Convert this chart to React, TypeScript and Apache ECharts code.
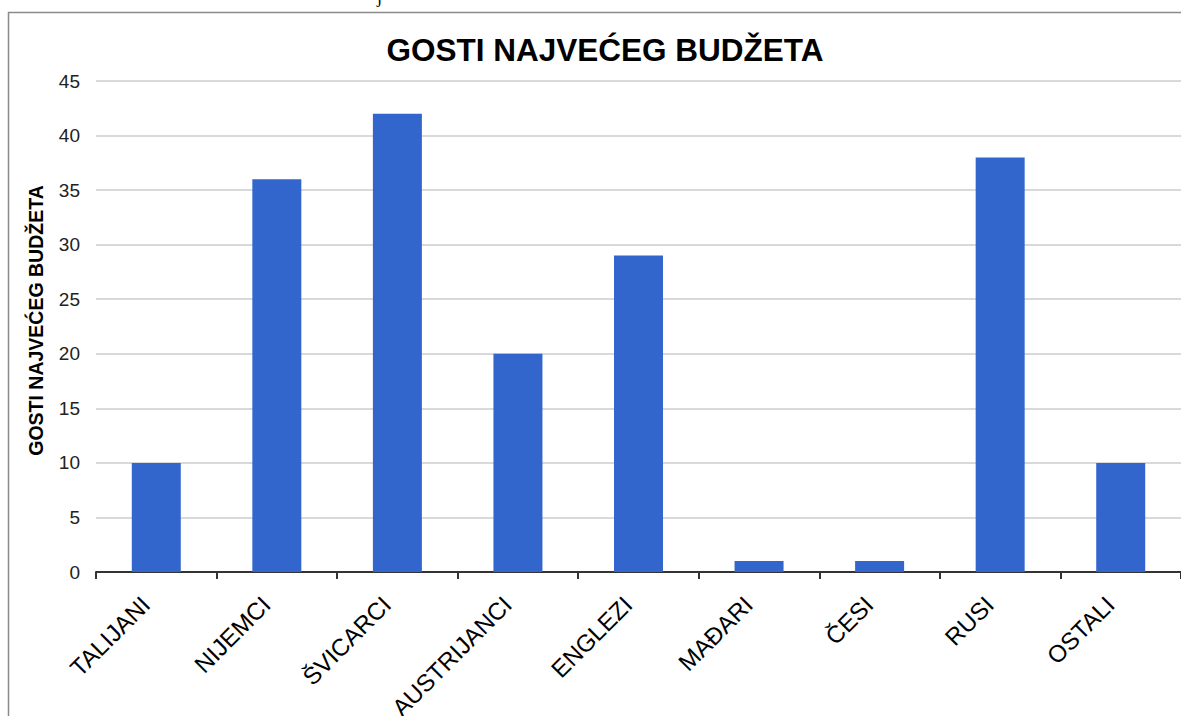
import React, { useEffect, useRef } from "react";
import * as echarts from "echarts";

const categories = ["TALIJANI", "NIJEMCI", "ŠVICARCI", "AUSTRIJANCI", "ENGLEZI", "MAĐARI", "ČESI", "RUSI", "OSTALI"];
const values = [10, 36, 42, 20, 29, 1, 1, 38, 10];
const titleText = "GOSTI NAJVEĆEG BUDŽETA";
const yAxisName = "GOSTI NAJVEĆEG BUDŽETA";
const fragmentText = "j";

export default function App() {
  const ref = useRef<HTMLDivElement>(null);
  useEffect(() => {
    if (!ref.current) return;
    const chart = echarts.init(ref.current, null, { renderer: "svg" });
    chart.setOption({
      animation: false,
      backgroundColor: "#ffffff",
      title: {
        text: titleText,
        left: 600,
        textAlign: "center",
        top: 29,
        textStyle: { fontFamily: "Liberation Sans, Arial, sans-serif", fontWeight: "bold", fontSize: 31.5, color: "#000" },
      },
      graphic: [
        {
          type: "line",
          shape: { x1: 8.5, y1: 12, x2: 8.5, y2: 716 },
          style: { stroke: "#8a8a8a", lineWidth: 1.5 },
          silent: true,
          z: 100,
        },
        {
          type: "line",
          shape: { x1: 8, y1: 12.5, x2: 1181, y2: 12.5 },
          style: { stroke: "#8a8a8a", lineWidth: 1.5 },
          silent: true,
          z: 100,
        },
        {
          type: "text",
          x: 377,
          y: -12,
          style: { text: fragmentText, fontFamily: "Liberation Serif, serif", fontSize: 18, fill: "#000" },
        },
      ],
      grid: { left: 96, top: 81, right: 0, bottom: 144, containLabel: false, outerBoundsMode: "none" },
      xAxis: {
        type: "category",
        data: categories,
        axisLine: { lineStyle: { color: "#333", width: 2 } },
        axisTick: { show: true, length: 7, lineStyle: { color: "#333", width: 2 } },
        axisLabel: {
          rotate: 45,
          interval: 0,
          margin: 18,
          padding: [0, 15, 0, 0],
          fontSize: 24,
          color: "#000",
          fontFamily: "Liberation Sans, Arial, sans-serif",
        },
      },
      yAxis: {
        type: "value",
        min: 0,
        max: 45,
        interval: 5,
        name: yAxisName,
        nameLocation: "middle",
        nameRotate: 90,
        nameGap: 50,
        nameTextStyle: {
          fontFamily: "Liberation Sans, Arial, sans-serif",
          fontWeight: "bold",
          fontSize: 19.5,
          color: "#000",
          padding: [0, 0, 0, 12],
        },
        axisLine: { show: false },
        axisTick: { show: false },
        axisLabel: { fontSize: 19, color: "#222", margin: 16, fontFamily: "Liberation Sans, Arial, sans-serif" },
        splitLine: { lineStyle: { color: "#cccccc", width: 1.5 } },
      },
      series: [
        {
          type: "bar",
          data: values,
          barWidth: 49,
          itemStyle: { color: "#3366CC" },
        },
      ],
    });
    return () => chart.dispose();
  }, []);
  return <div ref={ref} style={{ position: "fixed", left: 0, top: 0, width: 1181, height: 716, overflow: "hidden" }} />;
}
